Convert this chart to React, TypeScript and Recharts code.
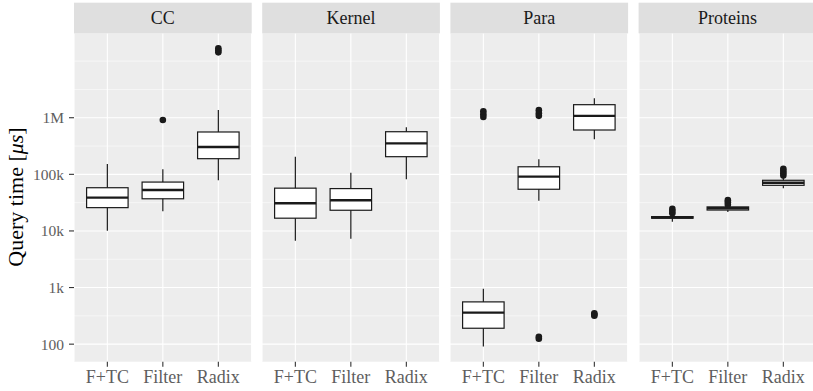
import { Bar, CartesianGrid, ComposedChart, Scatter, XAxis, YAxis } from "recharts";

const panels = ["CC", "Kernel", "Para", "Proteins"];
const methods = ["F+TC", "Filter", "Radix"];

// five-number summaries per method: [lower whisker, q1, median, q3, upper whisker]
const ccStats = [
  [10100, 25800, 38700, 58000, 152000],
  [22300, 37000, 53000, 73000, 123000],
  [79000, 189000, 304000, 560000, 1370000],
];
const kernelStats = [
  [6700, 16800, 30800, 57000, 205000],
  [7300, 23200, 34800, 56000, 107000],
  [82000, 205000, 353000, 566000, 676000],
];
const paraStats = [
  [91, 191, 361, 558, 957],
  [34000, 54500, 91000, 136000, 184000],
  [416000, 607000, 1080000, 1700000, 2200000],
];
const proteinStats = [
  [14600, 16800, 17300, 17900, 19200],
  [21600, 23400, 25100, 26600, 27600],
  [56800, 64000, 71000, 78500, 85000],
];

// outliers per method
const ccOutliers = [[], [910000], [14300000, 15500000, 16800000]];
const kernelOutliers = [[], [], []];
const paraOutliers = [
  [1030000, 1150000, 1300000],
  [1080000, 1200000, 1360000, 125, 135],
  [318, 335, 350],
];
const proteinOutliers = [
  [20500, 22500, 24500],
  [29000, 32000, 35000],
  [95000, 105000, 115000, 125000],
];

const yTicks = [100, 1000, 10000, 100000, 1000000];
const yTickLabels = ["100", "1k", "10k", "100k", "1M"];
const yMinor = [316, 3162, 31623, 316228, 3162278, 10000000];
const yDomain = [49, 31000000];

const allStats = [ccStats, kernelStats, paraStats, proteinStats];
const allOutliers = [ccOutliers, kernelOutliers, paraOutliers, proteinOutliers];

const FONT = "'Liberation Serif', serif";
const W = 813;
const H = 391;
const PLOT_TOP = 33.3;
const X_AXIS_H = 29.3;
const PLOT_W = 177.7;
const PANEL_STEP = 188.2;
const Y_AXIS_W = 74;
const PAD = 5.6; // ggplot's 0.6-unit discrete expansion
const BOX_W = 41.5;
const INK = "#1a1a1a";
const TICK_TEXT = "#5e5e5e";

function Whisker(props: any) {
  const { x, y, width, height } = props;
  const top = Math.min(y, y + height);
  const cx = x + width / 2;
  return <line x1={cx} x2={cx} y1={top} y2={top + Math.abs(height)} stroke={INK} strokeWidth={1.2} />;
}

function Box(props: any) {
  const { x, y, width, height } = props;
  const top = Math.min(y, y + height);
  return (
    <rect x={x} y={top} width={width} height={Math.abs(height)} fill="#fff" stroke={INK} strokeWidth={1.2} />
  );
}

function Median(props: any) {
  const { cx, cy } = props;
  return <line x1={cx - BOX_W / 2} x2={cx + BOX_W / 2} y1={cy} y2={cy} stroke={INK} strokeWidth={2.4} />;
}

function Dot(props: any) {
  return <circle cx={props.cx} cy={props.cy} r={3.3} fill={INK} />;
}

function Panel({ index }: { index: number }) {
  const first = index === 0;
  const stats = allStats[index];
  const data = methods.map((m, i) => ({
    cat: m,
    whisker: [stats[i][0], stats[i][4]],
    box: [stats[i][1], stats[i][3]],
    med: stats[i][2],
  }));
  const outliers = allOutliers[index].flatMap((vals, i) => vals.map((v) => ({ cat: methods[i], v })));
  const left = first ? 0 : Y_AXIS_W + PANEL_STEP * index;
  const width = first ? Y_AXIS_W + PLOT_W : PLOT_W;

  return (
    <div style={{ position: "absolute", left, top: 0 }}>
      <ComposedChart
        width={width}
        height={H}
        data={data}
        margin={{ top: PLOT_TOP, right: 0, bottom: 0, left: 0 }}
        barSize={BOX_W}
        barGap={-BOX_W}
      >
        <CartesianGrid
          fill="#ededed"
          fillOpacity={1}
          stroke="#fff"
          strokeWidth={1.1}
          horizontalValues={yTicks}
        />
        <CartesianGrid vertical={false} stroke="#fff" strokeWidth={0.55} horizontalValues={yMinor} />
        <XAxis
          dataKey="cat"
          type="category"
          allowDuplicatedCategory={false}
          padding={{ left: PAD, right: PAD }}
          height={X_AXIS_H}
          axisLine={false}
          tickSize={5}
          tickMargin={4}
          tickLine={{ stroke: "#333", strokeWidth: 1.1 }}
          tick={{ fill: TICK_TEXT, fontSize: 18, fontFamily: FONT }}
          interval={0}
        />
        <YAxis
          type="number"
          scale="log"
          domain={yDomain}
          allowDataOverflow
          ticks={yTicks}
          hide={!first}
          width={Y_AXIS_W}
          axisLine={false}
          tickSize={5}
          tickMargin={5}
          tickLine={{ stroke: "#333", strokeWidth: 1.1 }}
          tick={{ fill: TICK_TEXT, fontSize: 15.5, fontFamily: FONT }}
          tickFormatter={(v: number) => yTickLabels[yTicks.indexOf(v)] ?? String(v)}
        />
        <Bar dataKey="whisker" shape={<Whisker />} isAnimationActive={false} />
        <Bar dataKey="box" shape={<Box />} isAnimationActive={false} />
        <Scatter dataKey="med" shape={<Median />} isAnimationActive={false} />
        <Scatter data={outliers} dataKey="v" shape={<Dot />} isAnimationActive={false} />
      </ComposedChart>
    </div>
  );
}

export default function App() {
  return (
    <div style={{ position: "absolute", left: 0, top: 0, width: W, height: H, overflow: "hidden", background: "#fff" }}>
      {panels.map((_, i) => (
        <Panel key={i} index={i} />
      ))}
      <svg width={W} height={H} style={{ position: "absolute", left: 0, top: 0, pointerEvents: "none" }}>
        {panels.map((name, i) => {
          const x = Y_AXIS_W + PANEL_STEP * i;
          return (
            <g key={name}>
              <rect x={x} y={2.7} width={PLOT_W} height={PLOT_TOP - 2.7} fill="#dfdfdf" />
              <text x={x + PLOT_W / 2} y={24} textAnchor="middle" fontFamily={FONT} fontSize={18} fill="#1a1a1a">
                {name}
              </text>
            </g>
          );
        })}
        <text
          transform="translate(23,197) rotate(-90)"
          textAnchor="middle"
          fontFamily={FONT}
          fontSize={22}
          fill="#000"
        >
          Query time [<tspan fontStyle="italic">μs</tspan>]
        </text>
      </svg>
    </div>
  );
}
